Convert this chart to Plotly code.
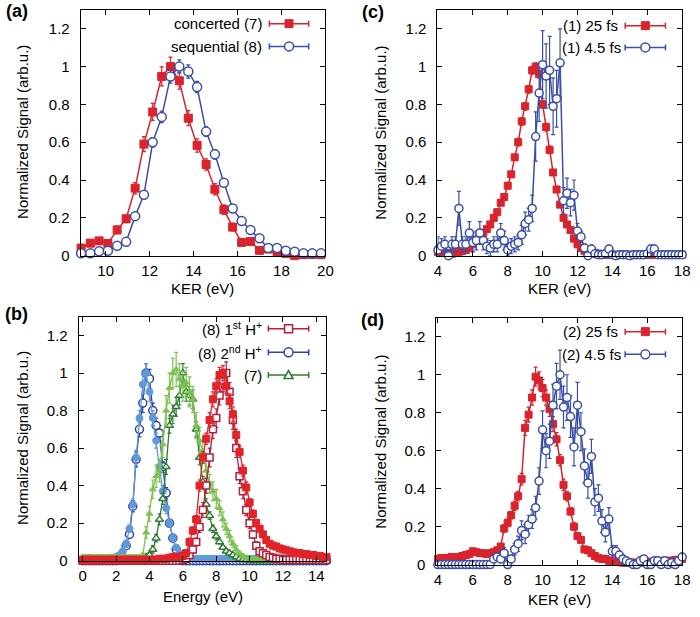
import plotly.graph_objects as go

FONT = "Liberation Sans, Arial, sans-serif"
W, H = 700, 617

# ---------------- Panel (a) ----------------
a_x = [8.88, 9.3, 9.7, 10.1, 10.52, 10.93, 11.34, 11.74, 12.14, 12.55, 12.95, 13.35, 13.76, 14.16,
       14.57, 14.97, 15.38, 15.78, 16.19, 16.59, 17.0, 17.4, 17.8, 18.2, 18.6, 19.0, 19.4, 19.8]
a_conc = [0.04, 0.066, 0.078, 0.064, 0.136, 0.195, 0.357, 0.59, 0.76, 0.948, 1.0, 0.925, 0.727, 0.583,
          0.482, 0.351, 0.243, 0.151, 0.07, 0.075, 0.028, 0.035, 0.022, 0.012, 0.0, 0.005, 0.006, 0.005]
a_conc_err = [0.02, 0.015, 0.015, 0.015, 0.02, 0.02, 0.03, 0.04, 0.045, 0.05, 0.05, 0.045, 0.04, 0.035,
              0.03, 0.03, 0.025, 0.02, 0.015, 0.015, 0.01, 0.01, 0.01, 0.005, 0.005, 0.005, 0.005, 0.005]
a_seq = [0.012, 0.012, 0.023, 0.026, 0.052, 0.073, 0.209, 0.322, 0.6, 0.734, 0.948, 1.0, 0.974, 0.892,
         0.656, 0.536, 0.386, 0.249, 0.183, 0.136, 0.092, 0.04, 0.04, 0.026, 0.021, 0.012, 0.012, 0.012]
a_seq_err = [0.01, 0.01, 0.01, 0.01, 0.01, 0.015, 0.015, 0.02, 0.025, 0.03, 0.035, 0.035, 0.035, 0.03,
             0.025, 0.025, 0.02, 0.015, 0.015, 0.01, 0.01, 0.01, 0.01, 0.01, 0.005, 0.005, 0.005, 0.005]

# ---------------- Panels (c) and (d) share the KER grid ----------------
cd_x = [4.0, 4.2, 4.4, 4.6, 4.8, 5.0, 5.2, 5.4, 5.6, 5.8, 6.0, 6.2, 6.4, 6.6, 6.8, 7.0, 7.2, 7.4, 7.6, 7.8,
        8.0, 8.2, 8.4, 8.6, 8.8, 9.0, 9.2, 9.4, 9.6, 9.8, 10.0, 10.2, 10.4, 10.6, 10.8, 11.0, 11.2, 11.4,
        11.6, 11.8, 12.0, 12.2, 12.4, 12.6, 12.8, 13.0, 13.2, 13.4, 13.6, 13.8, 14.0, 14.2, 14.4, 14.6,
        14.8, 15.0, 15.2, 15.4, 15.6, 15.8, 16.0, 16.2, 16.4, 16.6, 16.8, 17.0, 17.2, 17.4, 17.6, 17.8, 18.0]

c_red = ([0.02, 0.02, 0.015, 0.01, 0.01, 0.015, 0.02, 0.025, 0.03, 0.04]
         + [0.06, 0.085, 0.10, 0.12, 0.14, 0.165, 0.20, 0.23, 0.28, 0.31]
         + [0.37, 0.43, 0.52, 0.60, 0.71, 0.79, 0.88, 0.98, 1.0, 0.96]
         + [0.80, 0.68, 0.56, 0.44, 0.35, 0.27, 0.20, 0.165, 0.135, 0.09]
         + [0.06, 0.04, 0.026, 0.02, 0.015, 0.015, 0.01, 0.01, 0.005, 0.005]
         + [0.005, 0.005, 0.005, 0.005, 0.005, 0.005, 0.005, 0.005, 0.005, 0.005]
         + [0.005, 0.005, 0.005, 0.005, 0.005, 0.005, 0.005, 0.005, 0.005, 0.005, 0.005])
c_red_err = ([0.01, 0.01, 0.01, 0.01, 0.01, 0.01, 0.01, 0.01, 0.01, 0.01]
             + [0.01, 0.01, 0.01, 0.01, 0.01, 0.01, 0.01, 0.01, 0.015, 0.015]
             + [0.015, 0.015, 0.015, 0.02, 0.02, 0.02, 0.02, 0.02, 0.02, 0.02]
             + [0.02, 0.02, 0.02, 0.015, 0.015, 0.015, 0.01, 0.01, 0.01, 0.01]
             + [0.01, 0.005, 0.005, 0.005, 0.005, 0.005, 0.005, 0.005, 0.005, 0.005]
             + [0.005, 0.005, 0.005, 0.005, 0.005, 0.005, 0.005, 0.005, 0.005, 0.005]
             + [0.005, 0.005, 0.005, 0.005, 0.005, 0.005, 0.005, 0.005, 0.005, 0.005, 0.005])
c_blue = ([0.03, 0.05, 0.06, 0.0, 0.06, 0.06, 0.25, 0.06, 0.06, 0.12]
          + [0.07, 0.08, 0.12, 0.08, 0.05, 0.04, 0.06, 0.06, 0.12, 0.08]
          + [0.03, 0.05, 0.06, 0.07, 0.11, 0.17, 0.19, 0.25, 0.63, 0.86]
          + [1.01, 0.95, 0.98, 0.79, 0.83, 1.02, 0.29, 0.33, 0.28, 0.32]
          + [0.13, 0.10, 0.04, 0.0, 0.035, 0.01, 0.005, 0.005, 0.01, 0.035]
          + [0.005, 0.0, 0.005, 0.005, 0.005, 0.0, 0.005, 0.005, 0.005, 0.005]
          + [0.01, 0.035, 0.035, 0.005, 0.005, 0.005, 0.005, 0.005, 0.005, 0.005, 0.005])
c_blue_err = ([0.07, 0.04, 0.04, 0.03, 0.04, 0.04, 0.09, 0.04, 0.04, 0.06]
              + [0.05, 0.05, 0.06, 0.05, 0.04, 0.04, 0.04, 0.04, 0.05, 0.05]
              + [0.03, 0.04, 0.04, 0.04, 0.05, 0.06, 0.06, 0.07, 0.13, 0.15]
              + [0.18, 0.17, 0.18, 0.15, 0.15, 0.18, 0.07, 0.08, 0.07, 0.08]
              + [0.04, 0.03, 0.02, 0.01, 0.02, 0.01, 0.005, 0.005, 0.01, 0.02]
              + [0.005, 0.005, 0.005, 0.005, 0.005, 0.005, 0.005, 0.005, 0.005, 0.005]
              + [0.01, 0.02, 0.02, 0.005, 0.005, 0.005, 0.005, 0.005, 0.005, 0.005, 0.005])

d_red = ([0.03, 0.035, 0.035, 0.035, 0.04, 0.04, 0.04, 0.045, 0.05, 0.055]
         + [0.07, 0.065, 0.06, 0.06, 0.055, 0.06, 0.065, 0.075, 0.095, 0.19]
         + [0.22, 0.26, 0.31, 0.36, 0.45, 0.72, 0.79, 0.88, 0.99, 0.97]
         + [0.93, 0.88, 0.82, 0.74, 0.66, 0.55, 0.42, 0.36, 0.28, 0.20]
         + [0.15, 0.13, 0.08, 0.075, 0.06, 0.045, 0.035, 0.03, 0.03, 0.02]
         + [0.02, 0.015, 0.015, 0.01, 0.01, 0.01, 0.01, 0.01, 0.01, 0.015]
         + [0.015, 0.015, 0.015, 0.015, 0.02, 0.02, 0.02, 0.02, 0.025, 0.025, 0.03])
d_red_err = ([0.01, 0.01, 0.01, 0.01, 0.01, 0.01, 0.01, 0.01, 0.01, 0.01]
             + [0.01, 0.01, 0.01, 0.01, 0.01, 0.01, 0.01, 0.01, 0.015, 0.02]
             + [0.02, 0.02, 0.025, 0.025, 0.03, 0.04, 0.04, 0.04, 0.05, 0.045]
             + [0.045, 0.04, 0.04, 0.04, 0.035, 0.03, 0.03, 0.025, 0.02, 0.02]
             + [0.015, 0.015, 0.01, 0.01, 0.01, 0.01, 0.01, 0.005, 0.005, 0.005]
             + [0.005, 0.005, 0.005, 0.005, 0.005, 0.005, 0.005, 0.005, 0.005, 0.005]
             + [0.005, 0.005, 0.005, 0.005, 0.005, 0.005, 0.005, 0.005, 0.005, 0.005, 0.005])
d_blue = ([0.0, 0.0, 0.0, 0.0, 0.0, 0.0, 0.0, 0.0, 0.0, 0.0]
          + [0.0, 0.0, 0.0, 0.0, 0.0, 0.0, 0.03, 0.04, 0.03, 0.06]
          + [0.0, 0.03, 0.08, 0.11, 0.18, 0.16, 0.21, 0.24, 0.30, 0.44]
          + [0.71, 0.60, 0.65, 0.84, 0.94, 1.0, 0.83, 0.88, 0.78, 0.62]
          + [0.84, 0.70, 0.52, 0.43, 0.57, 0.33, 0.35, 0.23, 0.17, 0.24]
          + [0.07, 0.07, 0.05, 0.03, 0.02, 0.01, 0.0, 0.0, 0.02, 0.03]
          + [0.0, 0.0, 0.02, 0.02, 0.0, 0.02, 0.0, 0.01, 0.0, 0.02, 0.04])
d_blue_err = ([0.005, 0.005, 0.005, 0.005, 0.005, 0.005, 0.005, 0.005, 0.005, 0.005]
              + [0.005, 0.005, 0.005, 0.005, 0.005, 0.005, 0.02, 0.02, 0.02, 0.03]
              + [0.01, 0.02, 0.03, 0.04, 0.05, 0.05, 0.05, 0.05, 0.06, 0.07]
              + [0.1, 0.09, 0.09, 0.11, 0.12, 0.13, 0.11, 0.12, 0.11, 0.1]
              + [0.12, 0.1, 0.09, 0.08, 0.09, 0.07, 0.07, 0.06, 0.05, 0.06]
              + [0.03, 0.03, 0.02, 0.02, 0.01, 0.01, 0.005, 0.005, 0.01, 0.01]
              + [0.005, 0.005, 0.01, 0.01, 0.005, 0.01, 0.005, 0.01, 0.005, 0.01, 0.02])

# ---------------- Panel (b) ----------------
b_x = [0.0, 0.2, 0.4, 0.6, 0.8, 1.0, 1.2, 1.4, 1.6, 1.8, 2.0, 2.2, 2.4, 2.6, 2.8, 3.0, 3.2, 3.4, 3.6, 3.8,
       4.0, 4.2, 4.4, 4.6, 4.8, 5.0, 5.2, 5.4, 5.6, 5.8, 6.0, 6.2, 6.4, 6.6, 6.8, 7.0, 7.2, 7.4, 7.6, 7.8,
       8.0, 8.2, 8.4, 8.6, 8.8, 9.0, 9.2, 9.4, 9.6, 9.8, 10.0, 10.2, 10.4, 10.6, 10.8, 11.0, 11.2, 11.4,
       11.6, 11.8, 12.0, 12.2, 12.4, 12.6, 12.8, 13.0, 13.2, 13.4, 13.6, 13.8, 14.0, 14.2, 14.4, 14.6]

# light blue filled circles (no legend entry)
b_lblue = ([0.01, 0.01, 0.015, 0.01, 0.01, 0.015, 0.01, 0.01, 0.015, 0.015]
           + [0.02, 0.03, 0.05, 0.09, 0.17, 0.30, 0.55, 0.76, 0.94, 1.0]
           + [0.90, 0.76, 0.64, 0.50, 0.37, 0.28, 0.20, 0.12, 0.07, 0.04]
           + [0.02, 0.01, 0.01, 0.01, 0.01, 0.01, 0.01, 0.01, 0.01, 0.01]
           + [0.01, 0.01, 0.01, 0.01, 0.01, 0.01, 0.01, 0.01, 0.01, 0.01]
           + [0.01, 0.01, 0.01, 0.01, 0.01, 0.01, 0.01, 0.01, 0.01, 0.01]
           + [0.01, 0.01, 0.01, 0.01, 0.01, 0.01, 0.01, 0.01, 0.01, 0.01]
           + [0.01, 0.01, 0.01, 0.01])
b_lblue_err = ([0.01, 0.01, 0.01, 0.01, 0.01, 0.01, 0.01, 0.01, 0.01, 0.01]
               + [0.01, 0.01, 0.01, 0.02, 0.02, 0.03, 0.04, 0.04, 0.05, 0.05]
               + [0.05, 0.04, 0.04, 0.04, 0.03, 0.03, 0.02, 0.02, 0.01, 0.01]
               + [0.01, 0.005, 0.005, 0.005, 0.005, 0.005, 0.005, 0.005, 0.005, 0.005]
               + [0.005, 0.005, 0.005, 0.005, 0.005, 0.005, 0.005, 0.005, 0.005, 0.005]
               + [0.005, 0.005, 0.005, 0.005, 0.005, 0.005, 0.005, 0.005, 0.005, 0.005]
               + [0.005, 0.005, 0.005, 0.005, 0.005, 0.005, 0.005, 0.005, 0.005, 0.005]
               + [0.005, 0.005, 0.005, 0.005])
# (8) 2nd H+ : dark blue open circles
b_dblue = ([0.0, 0.0, 0.0, 0.0, 0.0, 0.0, 0.0, 0.0, 0.0, 0.0]
           + [0.0, 0.005, 0.02, 0.08, 0.14, 0.29, 0.54, 0.70, 0.84, 1.0]
           + [0.97, 0.80, 0.72, 0.68, 0.50, 0.36, 0.20, 0.12, 0.06, 0.02]
           + [0.0, 0.0, 0.0, 0.0, 0.0, 0.0, 0.0, 0.0, 0.0, 0.0]
           + [0.0, 0.0, 0.0, 0.0, 0.0, 0.0, 0.0, 0.0, 0.0, 0.0]
           + [0.0, 0.0, 0.0, 0.0, 0.0, 0.0, 0.0, 0.0, 0.0, 0.0]
           + [0.0, 0.0, 0.0, 0.0, 0.0, 0.0, 0.0, 0.0, 0.0, 0.0]
           + [0.0, 0.0, 0.0, 0.0])
b_dblue_err = ([0.0, 0.0, 0.0, 0.0, 0.0, 0.0, 0.0, 0.0, 0.0, 0.0]
               + [0.0, 0.005, 0.01, 0.02, 0.02, 0.03, 0.04, 0.04, 0.05, 0.05]
               + [0.05, 0.04, 0.04, 0.04, 0.03, 0.03, 0.02, 0.02, 0.01, 0.01]
               + [0.0, 0.0, 0.0, 0.0, 0.0, 0.0, 0.0, 0.0, 0.0, 0.0]
               + [0.0, 0.0, 0.0, 0.0, 0.0, 0.0, 0.0, 0.0, 0.0, 0.0]
               + [0.0, 0.0, 0.0, 0.0, 0.0, 0.0, 0.0, 0.0, 0.0, 0.0]
               + [0.0, 0.0, 0.0, 0.0, 0.0, 0.0, 0.0, 0.0, 0.0, 0.0]
               + [0.0, 0.0, 0.0, 0.0])
# light green filled triangles (no legend entry)
b_lgreen = ([0.02, 0.02, 0.02, 0.02, 0.02, 0.02, 0.02, 0.02, 0.02, 0.02]
            + [0.02, 0.02, 0.02, 0.02, 0.02, 0.02, 0.02, 0.02, 0.03, 0.15]
            + [0.25, 0.38, 0.45, 0.48, 0.62, 0.80, 0.92, 1.0, 1.02, 0.97]
            + [0.93, 0.95, 0.90, 0.86, 0.72, 0.64, 0.58, 0.48, 0.41, 0.37]
            + [0.33, 0.28, 0.22, 0.17, 0.13, 0.09, 0.06, 0.04, 0.025, 0.015]
            + [0.01, 0.01, 0.01, 0.01, 0.01, 0.01, 0.01, 0.01, 0.01, 0.01]
            + [0.01, 0.01, 0.01, 0.01, 0.01, 0.01, 0.01, 0.01, 0.01, 0.01]
            + [0.01, 0.01, 0.01, 0.01])
b_lgreen_err = ([0.01, 0.01, 0.01, 0.01, 0.01, 0.01, 0.01, 0.01, 0.01, 0.01]
                + [0.01, 0.01, 0.01, 0.01, 0.01, 0.01, 0.01, 0.01, 0.01, 0.03]
                + [0.04, 0.05, 0.06, 0.06, 0.07, 0.08, 0.08, 0.08, 0.09, 0.08]
                + [0.08, 0.08, 0.08, 0.07, 0.07, 0.07, 0.06, 0.06, 0.05, 0.05]
                + [0.05, 0.04, 0.04, 0.03, 0.03, 0.02, 0.02, 0.01, 0.01, 0.01]
                + [0.005, 0.005, 0.005, 0.005, 0.005, 0.005, 0.005, 0.005, 0.005, 0.005]
                + [0.005, 0.005, 0.005, 0.005, 0.005, 0.005, 0.005, 0.005, 0.005, 0.005]
                + [0.005, 0.005, 0.005, 0.005])
# (7) : dark green open triangles
b_dgreen = ([0.0, 0.0, 0.0, 0.0, 0.0, 0.0, 0.0, 0.0, 0.0, 0.0]
            + [0.0, 0.0, 0.0, 0.0, 0.0, 0.0, 0.0, 0.0, 0.0, 0.02]
            + [0.03, 0.06, 0.12, 0.22, 0.33, 0.50, 0.72, 0.78, 0.82, 0.88]
            + [1.0, 0.90, 0.88, 0.86, 0.70, 0.55, 0.42, 0.30, 0.24, 0.17]
            + [0.13, 0.10, 0.07, 0.05, 0.04, 0.03, 0.02, 0.01, 0.005, 0.005]
            + [0.0, 0.0, 0.0, 0.0, 0.0, 0.0, 0.0, 0.0, 0.0, 0.0]
            + [0.0, 0.0, 0.0, 0.0, 0.0, 0.0, 0.0, 0.0, 0.0, 0.0]
            + [0.0, 0.0, 0.0, 0.0])
b_dgreen_err = ([0.0, 0.0, 0.0, 0.0, 0.0, 0.0, 0.0, 0.0, 0.0, 0.0]
                + [0.0, 0.0, 0.0, 0.0, 0.0, 0.0, 0.0, 0.0, 0.0, 0.01]
                + [0.01, 0.02, 0.02, 0.03, 0.03, 0.04, 0.04, 0.05, 0.05, 0.05]
                + [0.05, 0.05, 0.05, 0.05, 0.04, 0.04, 0.03, 0.03, 0.02, 0.02]
                + [0.02, 0.01, 0.01, 0.01, 0.01, 0.005, 0.005, 0.005, 0.005, 0.005]
                + [0.0, 0.0, 0.0, 0.0, 0.0, 0.0, 0.0, 0.0, 0.0, 0.0]
                + [0.0, 0.0, 0.0, 0.0, 0.0, 0.0, 0.0, 0.0, 0.0, 0.0]
                + [0.0, 0.0, 0.0, 0.0])
# (8) 1st H+ : dark red open squares
b_dred = ([0.0, 0.0, 0.0, 0.0, 0.0, 0.0, 0.0, 0.0, 0.0, 0.0]
          + [0.0, 0.0, 0.0, 0.0, 0.0, 0.0, 0.0, 0.0, 0.0, 0.0]
          + [0.0, 0.0, 0.0, 0.0, 0.0, 0.0, 0.0, 0.0, 0.0, 0.0]
          + [0.005, 0.01, 0.03, 0.06, 0.10, 0.18, 0.27, 0.40, 0.55, 0.70]
          + [0.76, 0.88, 0.96, 1.0, 0.90, 0.75, 0.60, 0.45, 0.37, 0.27]
          + [0.20, 0.14, 0.08, 0.05, 0.04, 0.03, 0.02, 0.015, 0.01, 0.01]
          + [0.005, 0.005, 0.005, 0.005, 0.005, 0.005, 0.005, 0.005, 0.005, 0.005]
          + [0.005, 0.005, 0.005, 0.005])
b_dred_err = ([0.0, 0.0, 0.0, 0.0, 0.0, 0.0, 0.0, 0.0, 0.0, 0.0]
              + [0.0, 0.0, 0.0, 0.0, 0.0, 0.0, 0.0, 0.0, 0.0, 0.0]
              + [0.0, 0.0, 0.0, 0.0, 0.0, 0.0, 0.0, 0.0, 0.0, 0.0]
              + [0.0, 0.01, 0.01, 0.02, 0.02, 0.03, 0.04, 0.04, 0.05, 0.05]
              + [0.05, 0.05, 0.06, 0.06, 0.05, 0.05, 0.05, 0.04, 0.04, 0.03]
              + [0.03, 0.02, 0.02, 0.01, 0.01, 0.01, 0.005, 0.005, 0.005, 0.005]
              + [0.0, 0.0, 0.0, 0.0, 0.0, 0.0, 0.0, 0.0, 0.0, 0.0]
              + [0.0, 0.0, 0.0, 0.0])
# bright red filled squares (no legend entry)
b_rred = ([0.005, 0.005, 0.005, 0.005, 0.005, 0.005, 0.005, 0.005, 0.005, 0.005]
          + [0.005, 0.005, 0.005, 0.005, 0.005, 0.005, 0.005, 0.005, 0.005, 0.005]
          + [0.005, 0.005, 0.005, 0.01, 0.01, 0.01, 0.015, 0.02, 0.02, 0.02]
          + [0.025, 0.04, 0.10, 0.16, 0.22, 0.40, 0.55, 0.65, 0.75, 0.86]
          + [0.93, 0.99, 1.0, 0.93, 0.85, 0.78, 0.67, 0.58, 0.48, 0.39]
          + [0.31, 0.25, 0.20, 0.17, 0.14, 0.11, 0.09, 0.08, 0.075, 0.065]
          + [0.06, 0.055, 0.05, 0.045, 0.04, 0.04, 0.035, 0.035, 0.03, 0.03]
          + [0.025, 0.025, 0.02, 0.02])
b_rred_err = ([0.005, 0.005, 0.005, 0.005, 0.005, 0.005, 0.005, 0.005, 0.005, 0.005]
              + [0.005, 0.005, 0.005, 0.005, 0.005, 0.005, 0.005, 0.005, 0.005, 0.005]
              + [0.005, 0.005, 0.005, 0.005, 0.005, 0.005, 0.01, 0.01, 0.01, 0.01]
              + [0.01, 0.01, 0.02, 0.02, 0.02, 0.03, 0.03, 0.03, 0.04, 0.04]
              + [0.04, 0.04, 0.04, 0.04, 0.04, 0.04, 0.03, 0.03, 0.03, 0.03]
              + [0.02, 0.02, 0.02, 0.015, 0.015, 0.01, 0.01, 0.01, 0.01, 0.01]
              + [0.01, 0.01, 0.01, 0.01, 0.01, 0.01, 0.01, 0.01, 0.01, 0.01]
              + [0.01, 0.01, 0.01, 0.01])

y_ticks = [0, 0.2, 0.4, 0.6, 0.8, 1.0, 1.2]
y_ticktext = ["0", "0.2", "0.4", "0.6", "0.8", "1", "1.2"]

# colours
RED = "#d9232d"
BLUE = "#3a4fa6"
DRED = "#b3213d"
RRED = "#e0242a"
DBLUE = "#2f43a0"
LBLUE = "#5f9ad8"
DGREEN = "#2f7b32"
LGREEN = "#7cc250"

fig = go.Figure()


def add(x, y, err, color, symbol, size, xa, ya, lw=1.5, mlw=1.5, hollow=False):
    fig.add_trace(go.Scatter(
        x=x, y=y, mode="lines+markers", xaxis=xa, yaxis=ya, cliponaxis=False,
        line=dict(color=color, width=lw),
        marker=dict(symbol=symbol, size=size, color="white" if hollow else color,
                    line=dict(color=color, width=mlw)),
        error_y=dict(type="data", array=err, color=color, thickness=1.2, width=2),
        showlegend=False, hoverinfo="skip"))


# (a)
add(a_x, a_conc, a_conc_err, RED, "square", 8, "x", "y", mlw=1)
add(a_x, a_seq, a_seq_err, BLUE, "circle", 9, "x", "y", hollow=True)
# (b)
add(b_x, b_dblue, b_dblue_err, DBLUE, "circle", 8, "x2", "y2", lw=1.3, hollow=True)
add(b_x, b_lblue, b_lblue_err, LBLUE, "circle", 7, "x2", "y2", lw=1.3, mlw=1)
add(b_x, b_dgreen, b_dgreen_err, DGREEN, "triangle-up", 7, "x2", "y2", lw=1.3, hollow=True)
add(b_x, b_lgreen, b_lgreen_err, LGREEN, "triangle-up", 6, "x2", "y2", lw=1.3, mlw=1)
add(b_x, b_dred, b_dred_err, DRED, "square", 7, "x2", "y2", lw=1.3, hollow=True)
add(b_x, b_rred, b_rred_err, RRED, "square", 7, "x2", "y2", lw=1.3, mlw=1)
# (c)
add(cd_x, c_red, c_red_err, RED, "square", 7, "x3", "y3", mlw=1)
add(cd_x, c_blue, c_blue_err, BLUE, "circle", 8, "x3", "y3", hollow=True)
# (d)
add(cd_x, d_red, d_red_err, RED, "square", 7, "x4", "y4", mlw=1)
add(cd_x, d_blue, d_blue_err, BLUE, "circle", 8, "x4", "y4", hollow=True)


def px(x):
    return x / W


def py(y):
    return 1 - y / H


def xaxis(l, r, rng, tick0, anchor):
    return dict(domain=[px(l), px(r)], range=rng, tick0=tick0, dtick=2, anchor=anchor,
                showline=True, linecolor="black", linewidth=1, mirror="ticks",
                ticks="inside", ticklen=5, tickwidth=1, tickcolor="black",
                showgrid=False, zeroline=False, ticklabelstandoff=1, ticklabeloverflow="allow",
                tickfont=dict(family=FONT, size=15, color="black"))


def yaxis(top, bottom, anchor):
    return dict(domain=[py(bottom), py(top)], range=[0, 1.3], tickvals=y_ticks, ticktext=y_ticktext,
                anchor=anchor, showline=True, linecolor="black", linewidth=1, mirror="ticks",
                ticks="inside", ticklen=5, tickwidth=1, tickcolor="black",
                showgrid=False, zeroline=False, ticklabelstandoff=7,
                tickfont=dict(family=FONT, size=15, color="black"))


fig.update_layout(
    width=W, height=H, margin=dict(l=0, r=0, t=0, b=0),
    paper_bgcolor="white", plot_bgcolor="white",
    xaxis=xaxis(78, 327, [8.86, 20], 10, "y"),
    yaxis=yaxis(10, 259, "x"),
    xaxis2=xaxis(76, 328, [-0.24, 14.6], 0, "y2"),
    yaxis2=yaxis(321, 568, "x2"),
    xaxis3=xaxis(441, 690, [3.97, 18], 4, "y3"),
    yaxis3=yaxis(10, 259, "x3"),
    xaxis4=xaxis(440, 690, [3.92, 18], 4, "y4"),
    yaxis4=yaxis(322, 572, "x4"),
)

ann = []


def text(x, y, t, size=15, xanchor="center", angle=0, bold=False):
    ann.append(dict(x=px(x), y=py(y), xref="paper", yref="paper", text=("<b>%s</b>" % t) if bold else t,
                    showarrow=False, xanchor=xanchor, yanchor="middle", textangle=angle,
                    font=dict(family=FONT, size=size, color="black")))


# panel labels
text(13, 11, "(a)", 18, bold=True)
text(13, 318, "(b)", 18, bold=True)
text(375, 12, "(c)", 18, bold=True)
text(375, 324, "(d)", 18, bold=True)
# axis titles
ytitle = "Normalized Signal (arb.u.)"
text(19, 134, ytitle, angle=-90)
text(19, 444, ytitle, angle=-90)
text(383, 134, ytitle, angle=-90)
text(383, 447, ytitle, angle=-90)
text(202, 292, "KER (eV)")
text(202, 604, "Energy (eV)")
text(565, 292, "KER (eV)")
text(565, 607, "KER (eV)")

shapes = []


def legend_entry(tx, lx0, lx1, y, label, color, kind):
    text(tx, y, label, xanchor="right")
    shapes.append(dict(type="line", xref="paper", yref="paper", x0=px(lx0), x1=px(lx1), y0=py(y), y1=py(y),
                       line=dict(color=color, width=1.5)))
    for cx in (lx0, lx1):
        shapes.append(dict(type="line", xref="paper", yref="paper", ysizemode="pixel",
                           yanchor=py(y), x0=px(cx), x1=px(cx), y0=-3, y1=3, line=dict(color=color, width=1.5)))
    mx = px((lx0 + lx1) / 2)
    common = dict(xref="paper", yref="paper", xsizemode="pixel", ysizemode="pixel", xanchor=mx, yanchor=py(y))
    if kind == "sq":
        shapes.append(dict(type="rect", x0=-4, x1=4, y0=-4, y1=4, fillcolor=color,
                           line=dict(color=color, width=1), **common))
    elif kind == "osq":
        shapes.append(dict(type="rect", x0=-4, x1=4, y0=-4, y1=4, fillcolor="white",
                           line=dict(color=color, width=1.5), **common))
    elif kind == "oci":
        shapes.append(dict(type="circle", x0=-4.5, x1=4.5, y0=-4.5, y1=4.5, fillcolor="white",
                           line=dict(color=color, width=1.5), **common))
    elif kind == "otri":
        shapes.append(dict(type="path", path="M -4.5,-3.5 L 4.5,-3.5 L 0,4.5 Z", fillcolor="white",
                           line=dict(color=color, width=1.5), **common))


legend_entry(265, 270, 310, 24, "concerted (7)", RED, "sq")
legend_entry(265, 270, 310, 47, "sequential (8)", BLUE, "oci")
legend_entry(265, 269, 310, 333, "(8) 1<sup>st</sup> H<sup>+</sup>", DRED, "osq")
legend_entry(265, 269, 310, 357, "(8) 2<sup>nd</sup> H<sup>+</sup>", DBLUE, "oci")
legend_entry(265, 269, 310, 380, "(7)", DGREEN, "otri")
legend_entry(627, 632, 673, 26, "(1) 25 fs", RED, "sq")
legend_entry(630, 632, 673, 48, "(1) 4.5 fs", BLUE, "oci")
legend_entry(627, 632, 673, 336, "(2) 25 fs", RED, "sq")
legend_entry(630, 632, 673, 359, "(2) 4.5 fs", BLUE, "oci")

fig.update_layout(annotations=ann, shapes=shapes)
fig.write_html("out.html", config={"displayModeBar": False},
               post_script="document.body.style.margin='0';document.body.style.overflow='hidden';")
